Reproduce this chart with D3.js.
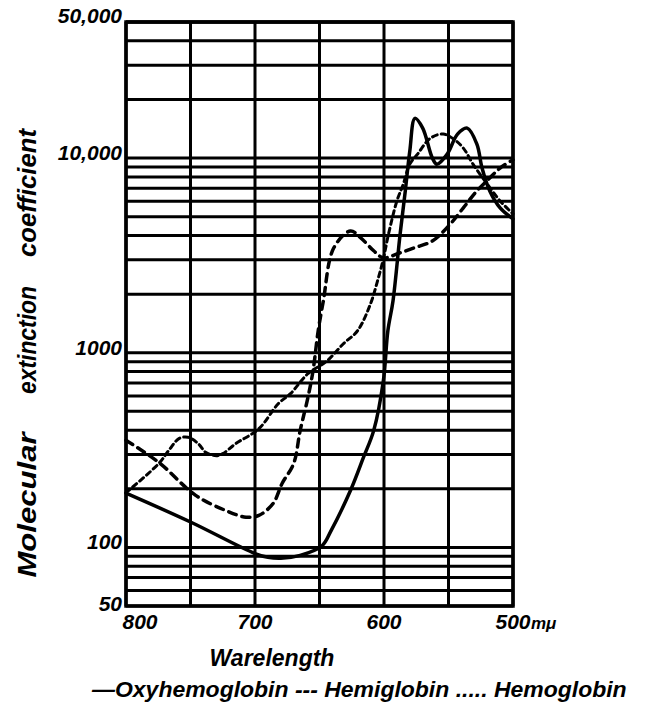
<!DOCTYPE html>
<html>
<head>
<meta charset="utf-8">
<script src="https://cdn.jsdelivr.net/npm/d3@7"></script>
<style>
  html, body { margin: 0; padding: 0; background: #fff; }
  svg { display: block; }
  text { font-family: "Liberation Sans", "DejaVu Sans", sans-serif; font-style: italic; font-weight: bold; fill: #000; }
</style>
</head>
<body>
<svg id="chart" width="645" height="712"></svg>
<script>
// ---- data ----
const xTickValues = [800, 700, 600, 500];
const xTickLabels = ["800", "700", "600", "500"];
const xGridValues = [800, 750, 700, 650, 600, 550, 500];
const yTickValues = [50000, 10000, 1000, 100, 50];
const yTickLabels = ["50,000", "10,000", "1000", "100", "50"];

// Oxyhemoglobin (solid)
const oxyWavelength = [800, 750, 700, 690, 680, 665, 648, 641, 626, 616, 608, 600.5, 597, 593, 587.5, 583.5, 580, 576, 570, 562.5, 559, 551, 543, 535.5, 528, 524, 518, 510, 500];
const oxyValue      = [190, 135, 93,  89,  88,  91,  102, 122, 196, 289, 398, 718,   1297, 1850, 4070, 6780, 10870, 16000, 14250, 10000, 9300, 10480, 13280, 14250, 11800, 8890, 6780, 5550, 4870];

// Hemiglobin (dashed)
const hemiWavelength = [800, 774.5, 746, 723, 707, 697, 686, 679, 670, 665, 659, 655, 651, 647, 639, 626, 618, 608, 600.5, 590, 577, 562.5, 548.5, 538.5, 528, 518, 510, 500];
const hemiValue      = [355, 273,   185, 155, 143, 146, 168, 213, 270, 398, 588, 809, 1297, 1850, 3450, 4220, 3890, 3340, 3070, 3215, 3450, 3750, 4590, 5550, 6780, 7900, 8890, 9800];

// Hemoglobin (dotted)
const hbWavelength = [800, 774.5, 767, 759, 752, 744, 738, 730, 725, 715, 697, 682, 672.5, 659, 644, 631.5, 620.5, 610.5, 605, 600.5, 596.5, 590, 585, 580, 574, 564, 554, 546, 538.5, 531, 520, 510, 500];
const hbValue      = [191, 270,   314, 362, 368, 341, 307, 296, 303, 341, 407, 547, 616,   780, 910, 1112,  1297,  1780,  2340, 3035, 4070, 6020, 7360, 9310, 10480, 12660, 13280, 12520, 11250, 9310, 7360, 6020, 5170];

const legendText = "\u2014Oxyhemoglobin --- Hemiglobin ..... Hemoglobin";

// ---- drawing ----
const svg = d3.select("#chart");
const x = d3.scaleLinear().domain([800, 500]).range([126, 513]);
const y = d3.scaleLog().domain([50, 50000]).range([606, 22]);

// horizontal grid: standard log grid
const yGrid = [];
[10, 100, 1000, 10000].forEach(d => { for (let k = 1; k < 10; k++) { const v = d * k; if (v >= 50 && v <= 50000) yGrid.push(v); } });
yGrid.push(50000);

const grid = svg.append("g");
grid.selectAll("line.h").data(yGrid).join("line")
  .attr("x1", x(800)).attr("x2", x(500))
  .attr("y1", d => y(d)).attr("y2", d => y(d))
  .attr("stroke", "#000").attr("stroke-width", 3);
grid.selectAll("line.v").data(xGridValues).join("line")
  .attr("y1", y(50)).attr("y2", y(50000))
  .attr("x1", d => x(d)).attr("x2", d => x(d))
  .attr("stroke", "#000").attr("stroke-width", 3);
svg.append("rect")
  .attr("x", x(800)).attr("y", y(50000))
  .attr("width", x(500) - x(800)).attr("height", y(50) - y(50000))
  .attr("fill", "none").attr("stroke", "#000").attr("stroke-width", 3.5);

// y tick labels
svg.append("g").selectAll("text").data(yTickValues).join("text")
  .attr("x", 122)
  .attr("y", (d, i) => y(d) + (i === 0 ? 1 : (i === 4 ? 5 : 2)))
  .attr("text-anchor", "end")
  .attr("font-size", 21)
  .text((d, i) => yTickLabels[i]);

// x tick labels
svg.append("g").selectAll("text").data(xTickValues).join("text")
  .attr("x", (d, i) => x(d) + (i === 0 ? 14 : 0))
  .attr("y", 629)
  .attr("text-anchor", "middle")
  .attr("font-size", 21)
  .text((d, i) => xTickLabels[i]);
svg.append("text").attr("x", 531).attr("y", 629).attr("font-size", 17).attr("font-weight", "normal").text("m\u03bc");

// axis titles
svg.append("text").attr("x", 272).attr("y", 666).attr("text-anchor", "middle").attr("font-size", 23).attr("font-weight", "normal").text("Warelength");
const yTitle = [["Molecular", 505, 145], ["extinction", 340, 108], ["coefficient", 193, 128]];
yTitle.forEach(([t, cy, len]) => {
  svg.append("text")
    .attr("transform", `translate(36,${cy}) rotate(-90)`)
    .attr("text-anchor", "middle")
    .attr("font-size", 25)
    .attr("textLength", len).attr("lengthAdjust", "spacingAndGlyphs")
    .text(t);
});

// legend: font size chosen so the natural width fits the reference span
const legend = svg.append("text").attr("x", 92).attr("y", 697).attr("font-size", 25).attr("font-weight", "normal")
  .text(legendText);
const natural = legend.node().getComputedTextLength();
const target = 535;
legend.attr("font-size", Math.min(25, 25 * target / natural));

// curves
const line = d3.line().x(d => x(d[0])).y(d => y(d[1])).curve(d3.curveCatmullRom.alpha(0.5));
const zip = (a, b) => a.map((v, i) => [v, b[i]]);
const plot = svg.append("g").attr("fill", "none").attr("stroke", "#000").attr("stroke-linecap", "round");
plot.append("path").datum(zip(hemiWavelength, hemiValue)).attr("d", line)
  .attr("stroke-width", 3.5).attr("stroke-dasharray", "8,6");
plot.append("path").datum(zip(hbWavelength, hbValue)).attr("d", line)
  .attr("stroke-width", 3).attr("stroke-dasharray", "5,4");
plot.append("path").datum(zip(oxyWavelength, oxyValue)).attr("d", line)
  .attr("stroke-width", 3.5);
</script>
</body>
</html>
